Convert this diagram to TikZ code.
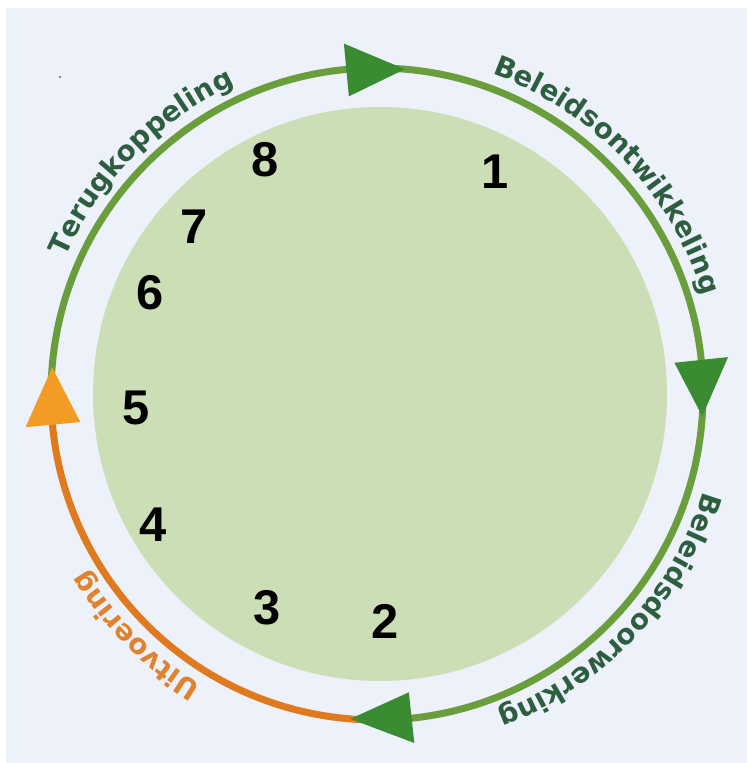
\documentclass[tikz,border=0pt]{standalone}
\usepackage{fontspec}
\usetikzlibrary{decorations.text}
\newfontfamily\labfont{DejaVu Sans}
\newfontfamily\numfont{Liberation Sans}
\definecolor{bgblue}{HTML}{EDF1F9}
\definecolor{diskgreen}{HTML}{CCDEB6}
\definecolor{ringgreen}{HTML}{6A9E3C}
\definecolor{headgreen}{HTML}{3B8B32}
\definecolor{textgreen}{HTML}{2D5E40}
\definecolor{ringorange}{HTML}{E07A1F}
\definecolor{headorange}{HTML}{F29B25}
\definecolor{textorange}{HTML}{E0822E}
\tikzset{
  ringline/.style={line width=7bp},
  numlabel/.style={inner sep=0pt, font=\numfont\bfseries\fontsize{49}{49}\selectfont, text=black},
}
\newcommand{\ringlab}[4]{% color, center angle, text, radius
  \path[decorate, decoration={text along path, text align=center,
    text={|\labfont\bfseries\fontsize{28}{28}\selectfont\color{#1}|#3}}]
    (#2+45:#4) arc[start angle=#2+45, end angle=#2-45, radius=#4];
}
\begin{document}
\begin{tikzpicture}[x=1bp,y=1bp]
\useasboundingbox (0,0) rectangle (747,763);
\fill[white] (0,0) rectangle (747,763);
\fill[bgblue] (6,0) rectangle (747,755);
\fill[black!60] (60,686) circle (1.2);
% inner disk
\fill[diskgreen] (380,369) circle (287);
\begin{scope}[shift={(377,369)}]
  % ring lines
  \draw[ringline, ringgreen] (178:326) arc[start angle=178, end angle=-92, radius=326];
  \draw[ringline, ringorange] (268:326) arc[start angle=268, end angle=183, radius=326];
  % arrowheads
  \fill[headgreen] (95.4:299) -- (95.4:352) -- (85.1:326) -- cycle;
  \fill[headgreen] (6:299) -- (6:353) -- (-3.9:326) -- cycle;
  \fill[headgreen] (-83.9:300) -- (-83.9:351) -- (-94.7:326) -- cycle;
  \fill[headorange] (185.4:298) -- (185.4:353) -- (175.3:326) -- cycle;
  % labels along ring
  \ringlab{textgreen}{135.5}{Terugkoppeling}{340}
  \ringlab{textgreen}{43.5}{Beleidsontwikkeling}{340}
  \ringlab{textgreen}{-43}{Beleidsdoorwerking}{340}
  \ringlab{textorange}{225}{Uitvoering}{340}
\end{scope}
% numbers
\node[numlabel] (n1) at (495,591) {1};
\node[numlabel] (n2) at (385,142) {2};
\node[numlabel] (n3) at (267,155) {3};
\node[numlabel] (n4) at (153,238) {4};
\node[numlabel] (n5) at (136,355) {5};
\node[numlabel] (n6) at (150,470) {6};
\node[numlabel] (n7) at (194,536) {7};
\node[numlabel] (n8) at (265,603) {8};
\end{tikzpicture}
\end{document}
